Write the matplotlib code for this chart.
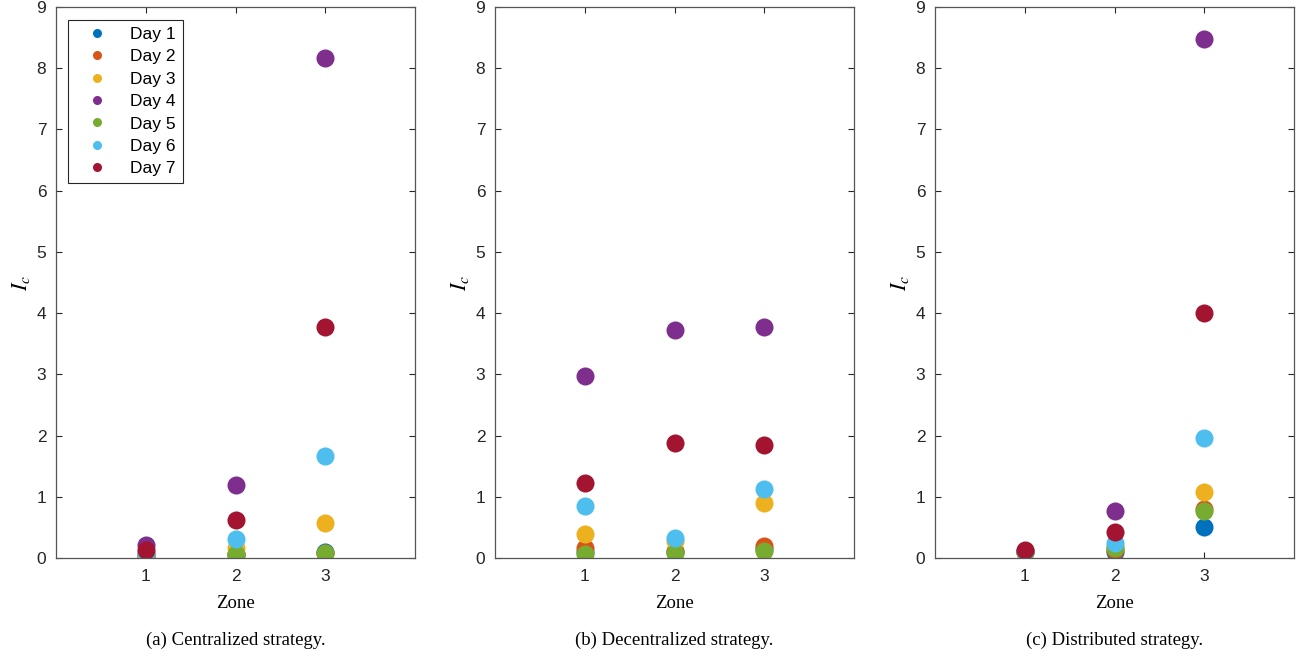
import matplotlib
matplotlib.use("Agg")
import matplotlib.pyplot as plt
import numpy as np

plt.rcParams['font.family'] = ['Liberation Sans', 'DejaVu Sans']
plt.rcParams['mathtext.fontset'] = 'stix'

# ───────── data ─────────
zones = [1, 2, 3]
days = ['Day 1', 'Day 2', 'Day 3', 'Day 4', 'Day 5', 'Day 6', 'Day 7']
colors = ['#0072BD', '#D95319', '#EDB120', '#7E2F8E', '#77AC30', '#4DBEEE', '#A2142F']

# rows = days, columns = zones
centralized = [
    [0.05, 0.05, 0.10],
    [0.04, 0.06, 0.08],
    [0.05, 0.16, 0.57],
    [0.21, 1.19, 8.17],
    [0.05, 0.06, 0.08],
    [0.08, 0.31, 1.67],
    [0.13, 0.62, 3.77],
]
decentralized = [
    [0.10, 0.10, 0.15],
    [0.16, 0.12, 0.20],
    [0.39, 0.28, 0.90],
    [2.97, 3.72, 3.77],
    [0.07, 0.08, 0.12],
    [0.85, 0.33, 1.13],
    [1.22, 1.88, 1.84],
]
distributed = [
    [0.09, 0.10, 0.51],
    [0.10, 0.13, 0.80],
    [0.10, 0.19, 1.07],
    [0.11, 0.76, 8.47],
    [0.10, 0.16, 0.77],
    [0.11, 0.24, 1.96],
    [0.13, 0.43, 4.00],
]
captions = ['(a) Centralized strategy.', '(b) Decentralized strategy.', '(c) Distributed strategy.']
panels = [centralized, decentralized, distributed]

# ───────── plot ─────────
fig = plt.figure(figsize=(13.04, 6.62), dpi=100)
lefts = [56, 495, 935]
W, H = 1304, 662
for k, (data, cap) in enumerate(zip(panels, captions)):
    ax = fig.add_axes([lefts[k] / W, (H - 558) / H, 359 / W, 551 / H])
    for d in range(len(days)):
        ax.plot(zones, data[d], 'o', color=colors[d], markersize=13,
                markeredgewidth=0, label=days[d])
    ax.set_xlim(0, 4)
    ax.set_ylim(0, 9)
    ax.set_xticks(zones)
    ax.set_yticks(np.arange(0, 10))
    ax.tick_params(direction='in', top=True, right=True, labelsize=12.5,
                   colors='#262626', length=4, width=0.8)
    ax.tick_params(axis='x', pad=8)
    ax.tick_params(axis='y', pad=7)
    for s in ax.spines.values():
        s.set_color('#555555')
        s.set_linewidth(0.9)
    ax.text(0.5, (558 - 604) / 551, 'Zone', transform=ax.transAxes, ha='center',
            va='center', family='Liberation Serif', fontsize=13.5)
    ax.set_ylabel('$I_c$', fontsize=16, labelpad=3)
    ax.text(0.5, (558 - 640) / 551, cap, transform=ax.transAxes, ha='center',
            va='center', family='Liberation Serif', fontsize=13.5)
    if k == 0:
        leg = ax.legend(loc='upper left', bbox_to_anchor=(0.033, 0.977), fontsize=12.5,
                        markerscale=0.5, handlelength=2.6, handletextpad=0.6,
                        labelspacing=0.42, borderpad=0.4, fancybox=False,
                        framealpha=1, borderaxespad=0)
        leg.get_frame().set_edgecolor('#262626')
        leg.get_frame().set_linewidth(0.8)

fig.savefig('out.png', dpi=100)
